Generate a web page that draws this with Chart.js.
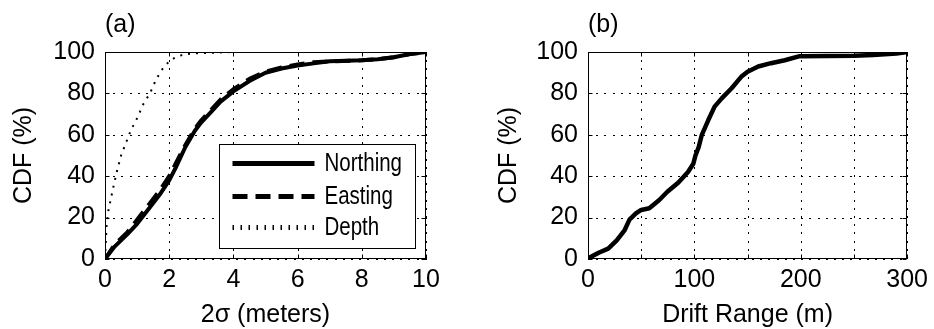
<!DOCTYPE html>
<html>
<head>
<meta charset="utf-8">
<script src="https://cdn.jsdelivr.net/npm/chart.js@4.4.1/dist/chart.umd.min.js"></script>
<style>
  html, body { margin: 0; padding: 0; background: #fff; }
  #wrap { position: relative; width: 934px; height: 329px; overflow: hidden; }
  .panel { position: absolute; top: 0; width: 467px; height: 329px; }
</style>
</head>
<body>
<div id="wrap">
  <div class="panel" style="left:0"><canvas id="cdfSigma" width="467" height="329"></canvas></div>
  <div class="panel" style="left:467px"><canvas id="cdfDrift" width="467" height="329"></canvas></div>
</div>
<script>
// (a) CDF of the 2-sigma position uncertainty
const sigmaNE = [0, 0.3, 0.7, 1.0, 1.4, 1.7, 2.0, 2.2, 2.5, 2.8, 3.0, 3.3, 3.6, 4.0, 4.5, 5.0, 5.5, 6.0, 6.5, 7.0, 8.0, 8.5, 9.0, 9.5, 10];
const cdfNorthing = [0, 6, 12, 17, 25, 31, 38, 44, 54, 62, 66, 71, 76, 81, 86, 90, 92, 93.5, 94.5, 95.5, 96, 96.5, 97.5, 99, 100];
const cdfEasting = [0, 7, 13, 19, 27, 33, 40, 46, 55, 63, 67, 72, 77, 82, 87, 90.5, 92.5, 94, 95, 95.5, 96, 96.5, 97.5, 99, 100];
const sigmaDepth = [0, 0.05, 0.1, 0.25, 0.35, 0.5, 0.65, 0.8, 1.0, 1.2, 1.4, 1.6, 1.8, 2.0, 2.2, 2.5, 3.0, 4.0, 10];
const cdfDepth = [0, 16, 23, 34, 41, 50, 56, 62, 68, 75, 80, 87, 92, 95.5, 97.5, 99, 99.5, 100, 100];

// (b) CDF of the drift range
const driftRange = [0, 2, 10, 19, 27, 34.5, 39, 45, 50, 57.6, 67, 74.6, 85, 94, 99, 101, 104, 107, 113, 119, 125.7, 135, 144, 150, 160, 172, 185, 199, 250, 268, 290, 300];
const cdfDrift = [0, 0.8, 3, 5, 9, 14, 19, 22, 23.7, 24.5, 28.5, 32.5, 37, 42, 46, 50, 54, 60, 67, 73.6, 77.6, 82.5, 88, 90.5, 93, 94.6, 96, 98, 98.2, 98.6, 99.3, 100];

// tick labels
const cdfTicks = ['0', '20', '40', '60', '80', '100'];
const sigmaTicks = ['0', '2', '4', '6', '8', '10'];
const driftTicks = ['0', '', '100', '', '200', '', '300'];

const FONT = '"Liberation Sans", Arial, Helvetica, sans-serif';
Chart.defaults.font.family = FONT;
Chart.defaults.font.size = 25;
Chart.defaults.color = '#000';

const pairs = (xs, ys) => xs.map((x, i) => ({ x: x, y: ys[i] }));

// Dotted grid at every tick of both scales (small filled dots)
const DOT_STEP = 8.2;
const dottedGridPlugin = {
  id: 'dottedGrid',
  afterDatasetsDraw(chart) {
    const { ctx, chartArea: a } = chart;
    const xs = chart.scales.x, ys = chart.scales.y;
    ctx.save();
    ctx.fillStyle = '#000';
    xs.ticks.forEach((t, i) => {
      const px = Math.round(xs.getPixelForTick(i));
      for (let y = a.bottom - 2; y > a.top; y -= DOT_STEP) {
        ctx.fillRect(px, Math.round(y), 1, 2);
      }
    });
    ys.ticks.forEach((t, i) => {
      const py = Math.round(ys.getPixelForTick(i));
      for (let x = a.left; x < a.right - 1; x += DOT_STEP) {
        ctx.fillRect(Math.round(x), py, 2, 1);
      }
    });
    ctx.restore();
  }
};

// Closed frame plus inward tick marks on all four sides
const framePlugin = {
  id: 'frame',
  afterDatasetsDraw(chart) {
    const { ctx, chartArea: a } = chart;
    const L = Math.round(a.left) + 0.5, R = Math.round(a.right) - 0.5;
    const T = Math.round(a.top) + 0.5, B = Math.round(a.bottom) - 0.5;
    ctx.save();
    ctx.strokeStyle = '#000';
    ctx.lineWidth = 1;
    ctx.setLineDash([]);
    ctx.strokeRect(L, T, R - L, B - T);
    const len = 4;
    ctx.beginPath();
    const xs = chart.scales.x;
    xs.ticks.forEach((t, i) => {
      const px = Math.round(xs.getPixelForTick(i)) + 0.5;
      ctx.moveTo(px, B); ctx.lineTo(px, B - len);
      ctx.moveTo(px, T); ctx.lineTo(px, T + len);
    });
    const ys = chart.scales.y;
    ys.ticks.forEach((t, i) => {
      const py = Math.round(ys.getPixelForTick(i)) + 0.5;
      ctx.moveTo(L, py); ctx.lineTo(L + len, py);
      ctx.moveTo(R, py); ctx.lineTo(R - len, py);
    });
    ctx.stroke();
    ctx.restore();
  }
};

// Panel letter above the top-left corner of the plot box
const panelLabelPlugin = {
  id: 'panelLabel',
  afterDraw(chart, args, opts) {
    const { ctx, chartArea: a } = chart;
    ctx.save();
    ctx.font = '25px ' + FONT;
    ctx.fillStyle = '#000';
    ctx.textAlign = 'left';
    ctx.textBaseline = 'alphabetic';
    ctx.fillText(opts.text, a.left, a.top - 20);
    ctx.restore();
  }
};

// Boxed legend in the lower-right of the plot area (condensed lettering)
const boxLegendPlugin = {
  id: 'boxLegend',
  afterDatasetsDraw(chart, args, opts) {
    if (!opts.show) return;
    const { ctx, chartArea: a } = chart;
    const w = 196, h = 104;
    const x0 = Math.round(a.right - 11 - w) + 0.5;
    const y0 = Math.round(a.bottom - 11 - h) + 0.5;
    ctx.save();
    ctx.fillStyle = '#fff';
    ctx.fillRect(x0, y0, w, h);
    ctx.strokeStyle = '#000';
    ctx.lineWidth = 1;
    ctx.setLineDash([]);
    ctx.strokeRect(x0, y0, w, h);
    const rows = [19, 52, 83];
    chart.data.datasets.forEach((ds, i) => {
      const y = y0 + rows[i];
      const st = opts.samples[i];
      ctx.beginPath();
      ctx.lineWidth = st.width;
      ctx.setLineDash(st.dash);
      ctx.lineCap = 'butt';
      ctx.strokeStyle = ds.borderColor;
      ctx.moveTo(x0 + 13, y);
      ctx.lineTo(x0 + 95, y);
      ctx.stroke();
      ctx.setLineDash([]);
      ctx.save();
      ctx.translate(x0 + 105, y + 1);
      ctx.scale(0.82, 1);
      ctx.fillStyle = '#000';
      ctx.font = '25px ' + FONT;
      ctx.textAlign = 'left';
      ctx.textBaseline = 'middle';
      ctx.fillText(ds.label, 0, 0);
      ctx.restore();
    });
    ctx.restore();
  }
};

function axisX(min, max, step, labels, title) {
  return {
    type: 'linear', min: min, max: max,
    afterFit(s) { s.height = 70; },
    grid: { display: false, drawTicks: false },
    border: { display: false },
    ticks: {
      stepSize: step, autoSkip: false, maxRotation: 0, padding: 6,
      callback: (v, i) => labels[i]
    },
    title: { display: true, text: title, font: { size: 25, lineHeight: 1 }, padding: { top: 0, bottom: 1 } }
  };
}

function axisY(width, titlePad) {
  return {
    type: 'linear', min: 0, max: 100,
    afterFit(s) { s.width = width; },
    grid: { display: false, drawTicks: false },
    border: { display: false },
    ticks: { stepSize: 20, autoSkip: false, padding: 10, callback: (v, i) => cdfTicks[i] },
    title: { display: true, text: 'CDF (%)', font: { size: 25, lineHeight: 1 }, padding: { top: titlePad, bottom: 0 } }
  };
}

function baseOptions(rightPad, xAxis, yAxis) {
  return {
    responsive: false,
    animation: false,
    devicePixelRatio: 1,
    layout: { padding: { left: 0, top: 52, right: rightPad, bottom: 0 } },
    scales: { x: xAxis, y: yAxis },
    elements: { point: { radius: 0 }, line: { tension: 0, borderCapStyle: 'butt', borderJoinStyle: 'round' } },
    plugins: { legend: { display: false }, tooltip: { enabled: false } }
  };
}

const optsA = baseOptions(41, axisX(0, 10, 2, sigmaTicks, '2\u03c3 (meters)'), axisY(105, 11.5));
optsA.plugins.panelLabel = { text: '(a)' };
optsA.plugins.boxLegend = {
  show: true,
  samples: [
    { width: 5, dash: [] },
    { width: 5, dash: [15, 8] },
    { width: 5, dash: [1.5, 6.5] }
  ]
};

new Chart(document.getElementById('cdfSigma'), {
  type: 'scatter',
  data: {
    datasets: [
      { label: 'Northing', data: pairs(sigmaNE, cdfNorthing), showLine: true, borderColor: '#000', borderWidth: 4 },
      { label: 'Easting', data: pairs(sigmaNE, cdfEasting), showLine: true, borderColor: '#000', borderWidth: 4, borderDash: [15, 8] },
      { label: 'Depth', data: pairs(sigmaDepth, cdfDepth), showLine: true, borderColor: '#000', borderWidth: 2, borderDash: [2, 6] }
    ]
  },
  options: optsA,
  plugins: [dottedGridPlugin, framePlugin, panelLabelPlugin, boxLegendPlugin]
});

const optsB = baseOptions(23, axisX(0, 300, 50, driftTicks, 'Drift Range (m)'), axisY(121, 29.5));
optsB.plugins.panelLabel = { text: '(b)' };
optsB.plugins.boxLegend = { show: false };

new Chart(document.getElementById('cdfDrift'), {
  type: 'scatter',
  data: {
    datasets: [
      { label: 'Drift range', data: pairs(driftRange, cdfDrift), showLine: true, borderColor: '#000', borderWidth: 4.5 }
    ]
  },
  options: optsB,
  plugins: [dottedGridPlugin, framePlugin, panelLabelPlugin, boxLegendPlugin]
});
</script>
</body>
</html>
